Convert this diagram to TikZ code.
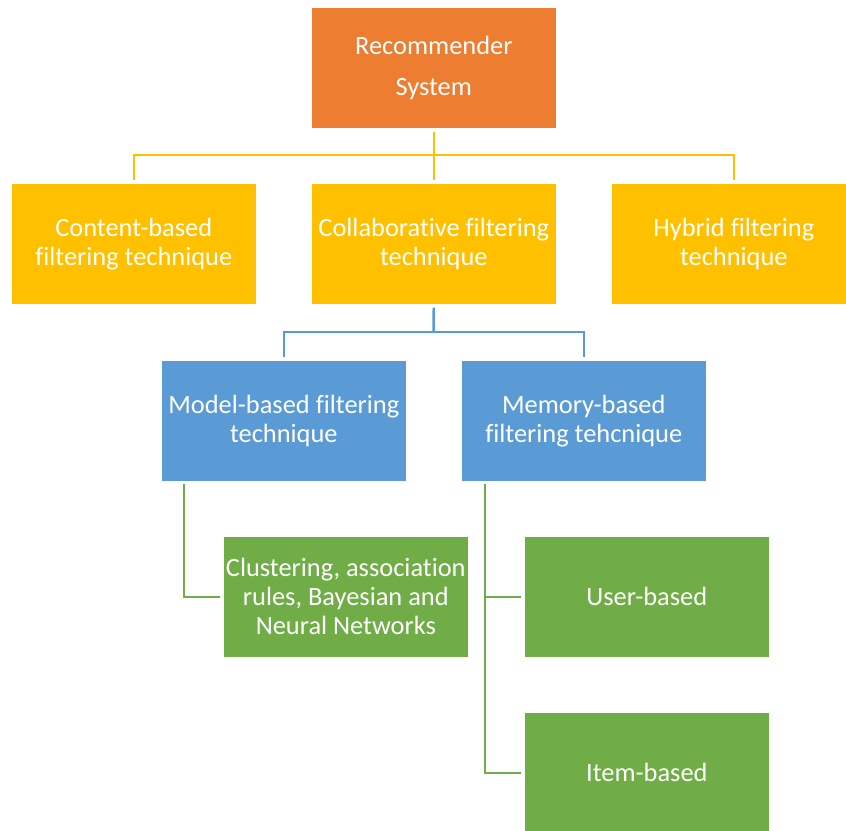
\documentclass[tikz,border=0pt]{standalone}
\usepackage{fontspec}
\setmainfont[Ligatures=NoCommon]{Carlito}
\usetikzlibrary{calc}
\definecolor{cOrange}{HTML}{ED7D31}
\definecolor{cYellow}{HTML}{FFC000}
\definecolor{cBlue}{HTML}{5B9BD5}
\definecolor{cGreen}{HTML}{70AD47}
\tikzset{
  box/.style={rectangle, anchor=north west, minimum width=245pt, minimum height=121pt,
    inner sep=0pt, draw=white, line width=0.6pt, text=white, align=center,
    font=\fontsize{26.4}{29}\selectfont},
  orangebox/.style={box, fill=cOrange, font=\fontsize{26.4}{41}\selectfont},
  yellowbox/.style={box, fill=cYellow},
  bluebox/.style={box, fill=cBlue},
  greenbox/.style={box, fill=cGreen},
  link/.style={line width=2.5pt, shorten <=3pt, shorten >=3pt},
  ylink/.style={link, draw=cYellow},
  blink/.style={link, draw=cBlue},
  glink/.style={link, draw=cGreen},
}
\begin{document}
\begin{tikzpicture}[x=1pt,y=-1pt]
\useasboundingbox (0,0) rectangle (846,830);
\clip (0,0) rectangle (846,830);
\node[orangebox] (root) at (311,7) {Recommender\\System};
\node[yellowbox] (content) at (11,183) {Content-based\\filtering technique};
\node[yellowbox] (collab) at (311,183) {Collaborative filtering\\technique};
\node[yellowbox] (hybrid) at (611,183) {Hybrid filtering\\technique};
\node[bluebox] (model) at (161,360) {Model-based filtering\\technique};
\node[bluebox] (memory) at (461,360) {Memory-based\\filtering tehcnique};
\node[greenbox] (clust) at (223,536) {Clustering, association\\rules, Bayesian and\\Neural Networks};
\node[greenbox] (user) at (524,536) {User-based};
\node[greenbox] (item) at (524,712) {Item-based};
\coordinate (j1) at (433.5,155);
\coordinate (j2) at (433.5,332);
\coordinate (m1) at (184,481);
\coordinate (m2) at (485,481);
\draw[ylink] (root.south) -- (collab.north);
\draw[ylink] (content.north) |- (j1) -| (hybrid.north);
\draw[blink, shorten >=0pt] (collab.south) -- (j2);
\draw[blink] (model.north) |- (j2) -| (memory.north);
\draw[glink] (m1) |- (clust.west);
\draw[glink] (m2) |- (user.west);
\draw[glink] (m2) |- (item.west);
\end{tikzpicture}
\end{document}
